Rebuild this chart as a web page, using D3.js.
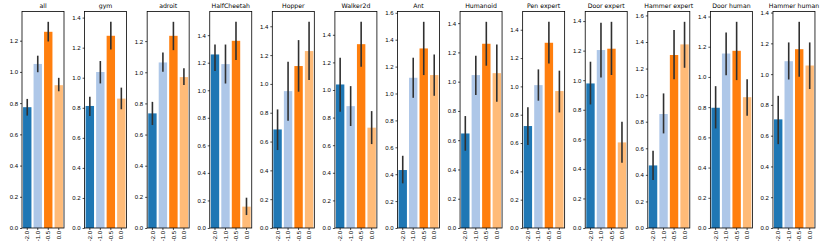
<!DOCTYPE html>
<html>
<head>
<meta charset="utf-8">
<script src="https://cdn.jsdelivr.net/npm/d3@7"></script>
<style>
  body { margin: 0; background: #fff; }
  svg { display: block; font-family: "DejaVu Sans", sans-serif; }
  .tick text { fill: #000; }
</style>
</head>
<body>
<svg id="chart" width="830" height="246"></svg>
<script>
// tick labels on the x axis (one bar per value)
const categories = ["-2.0", "-1.0", "-0.5", "0.0"];
const colors = ["#1f77b4", "#aec7e8", "#ff7f0e", "#ffbb78"];

const panels = [
  "all", "gym", "adroit", "HalfCheetah", "Hopper", "Walker2d", "Ant",
  "Humanoid", "Pen expert", "Door expert", "Hammer expert", "Door human",
  "Hammer human"
];

// bar heights, one row per panel, in category order
const means = [
  [0.774, 1.051, 1.257, 0.915],
  [0.812, 1.038, 1.279, 0.861],
  [0.736, 1.063, 1.234, 0.969],
  [1.260, 1.190, 1.359, 0.155],
  [0.684, 0.950, 1.124, 1.228],
  [1.040, 0.883, 1.332, 0.727],
  [0.431, 1.117, 1.335, 1.137],
  [0.646, 1.045, 1.259, 1.058],
  [0.720, 1.009, 1.308, 0.967],
  [0.978, 1.204, 1.213, 0.579],
  [0.471, 0.858, 1.302, 1.382],
  [0.796, 1.155, 1.173, 0.866],
  [0.706, 1.084, 1.162, 1.056]
];

// lower ends of the error bars
const lows = [
  [0.720, 0.998, 1.195, 0.876],
  [0.746, 0.962, 1.188, 0.790],
  [0.661, 1.003, 1.142, 0.918],
  [1.139, 1.049, 1.219, 0.094],
  [0.541, 0.744, 0.946, 1.027],
  [0.842, 0.739, 1.168, 0.608],
  [0.332, 0.968, 1.137, 0.983],
  [0.528, 0.908, 1.109, 0.863],
  [0.586, 0.899, 1.162, 0.816],
  [0.836, 1.019, 1.035, 0.442],
  [0.361, 0.712, 1.119, 1.206],
  [0.659, 1.012, 0.979, 0.743],
  [0.545, 0.965, 0.983, 0.903]
];

// upper ends of the error bars
const highs = [
  [0.827, 1.104, 1.321, 0.962],
  [0.873, 1.111, 1.372, 0.934],
  [0.810, 1.127, 1.324, 1.025],
  [1.332, 1.332, 1.497, 0.220],
  [0.823, 1.154, 1.304, 1.431],
  [1.233, 1.028, 1.494, 0.847],
  [0.537, 1.266, 1.533, 1.290],
  [0.765, 1.177, 1.409, 1.254],
  [0.852, 1.120, 1.456, 1.111],
  [1.125, 1.389, 1.395, 0.719],
  [0.582, 1.013, 1.490, 1.552],
  [0.939, 1.294, 1.365, 0.985],
  [0.859, 1.206, 1.340, 1.206]
];

const svg = d3.select("#chart");

const margin = { left: 22, top: 11.5, bottom: 228 };
const step = 62.58;
const plotWidth = 42;
const plotHeight = margin.bottom - margin.top;

panels.forEach((name, i) => {
  const g = svg.append("g")
    .attr("transform", `translate(${margin.left + i * step},${margin.top})`);

  const yMax = d3.max(highs[i]) * 1.05;
  const x = d3.scaleBand()
    .domain(categories)
    .range([0, plotWidth])
    .paddingInner(0.2)
    .paddingOuter(0.1);
  const y = d3.scaleLinear().domain([0, yMax]).range([plotHeight, 0]);

  const rows = categories.map((c, j) => ({
    cat: c, mean: means[i][j], lo: lows[i][j], hi: highs[i][j], color: colors[j]
  }));

  g.selectAll(".bar")
    .data(rows)
    .join("rect")
    .attr("class", "bar")
    .attr("x", (d) => x(d.cat))
    .attr("width", x.bandwidth())
    .attr("y", (d) => y(d.mean))
    .attr("height", (d) => plotHeight - y(d.mean))
    .attr("fill", (d) => d.color);

  g.selectAll(".err")
    .data(rows)
    .join("line")
    .attr("class", "err")
    .attr("x1", (d) => x(d.cat) + x.bandwidth() / 2)
    .attr("x2", (d) => x(d.cat) + x.bandwidth() / 2)
    .attr("y1", (d) => y(d.lo))
    .attr("y2", (d) => y(d.hi))
    .attr("stroke", "#303030")
    .attr("stroke-width", 1.6);

  // y axis
  g.append("g")
    .call(d3.axisLeft(y).ticks(8).tickFormat(d3.format(".1f")).tickSize(2).tickPadding(2))
    .call((a) => a.select(".domain").remove())
    .call((a) => a.selectAll(".tick line").attr("stroke", "#000").attr("stroke-width", 0.7))
    .call((a) => a.selectAll(".tick text").attr("font-size", 6));

  // x axis
  g.append("g")
    .attr("transform", `translate(0,${plotHeight})`)
    .call(d3.axisBottom(x).tickSize(2).tickPadding(2))
    .call((a) => a.select(".domain").remove())
    .call((a) => a.selectAll(".tick line").attr("stroke", "#000").attr("stroke-width", 0.7))
    .call((a) => a.selectAll(".tick text")
      .attr("font-size", 6)
      .attr("transform", "rotate(-90)")
      .attr("text-anchor", "end")
      .attr("x", -3)
      .attr("y", 0)
      .attr("dy", "0.35em"));

  // frame
  g.append("rect")
    .attr("width", plotWidth)
    .attr("height", plotHeight)
    .attr("fill", "none")
    .attr("stroke", "#000")
    .attr("stroke-width", 0.8);

  g.append("text")
    .attr("x", plotWidth / 2)
    .attr("y", -4)
    .attr("text-anchor", "middle")
    .attr("font-size", 6.2)
    .text(name);
});
</script>
</body>
</html>
